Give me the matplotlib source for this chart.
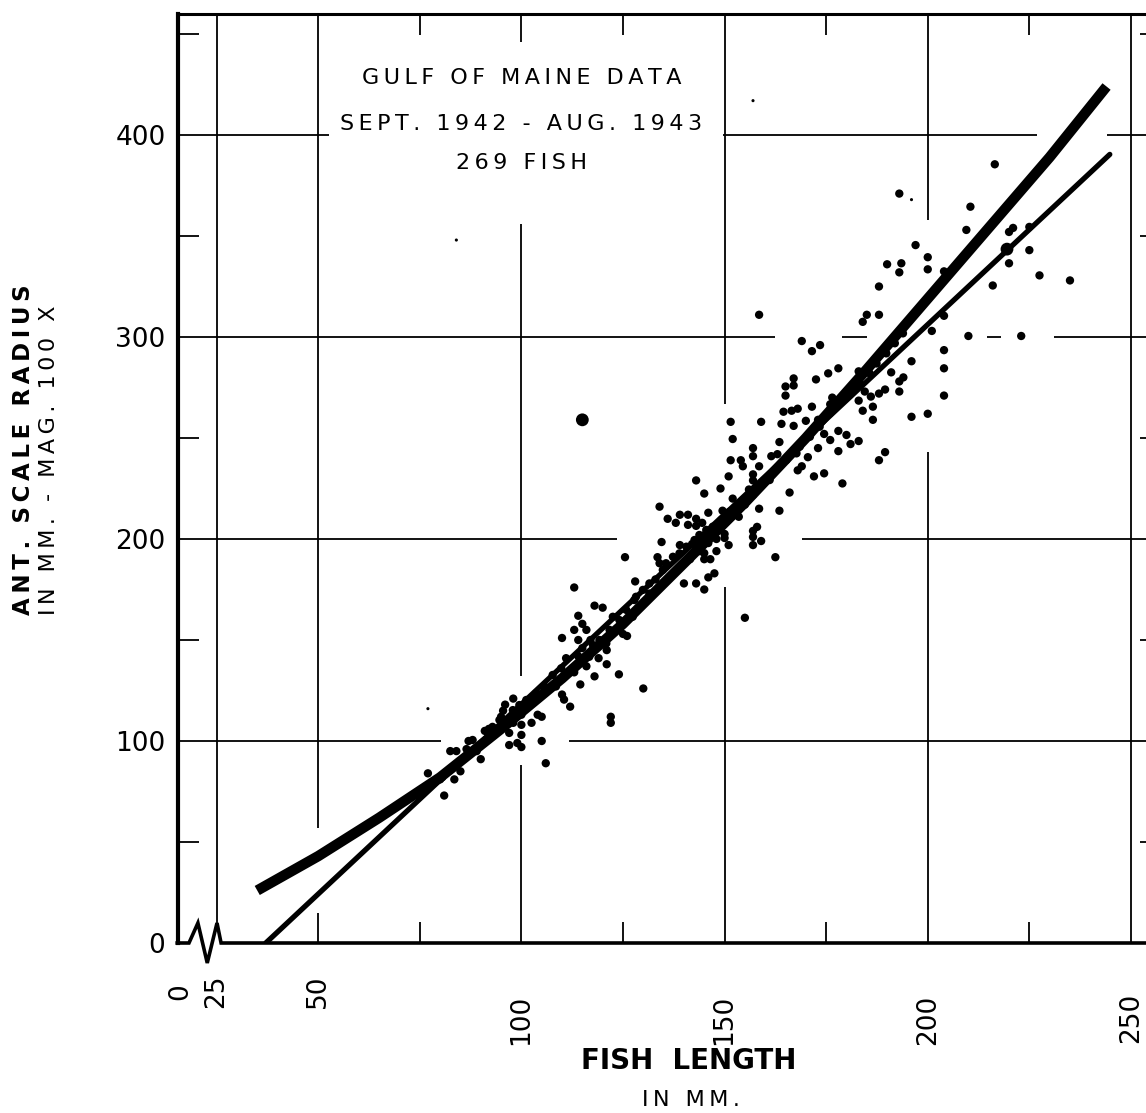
import matplotlib.pyplot as plt
from matplotlib.transforms import offset_copy

plt.rcParams['font.family'] = ['DejaVu Sans']

# ---- values ----
# fish length (mm) vs anterior scale radius (mm, mag. 100x), one dot per fish
length_mm = [
    # below 110 mm
    77, 80, 80.5, 81, 83.5, 85, 82.5, 84, 86.5, 89, 90, 87, 91, 91, 92, 95, 95.5,
    96, 98, 97, 97, 99, 100, 100, 98, 100, 100, 102.5, 104, 105, 105, 106,
    88, 92.9, 94.6, 97.9, 99.5, 101.2, 103.6, 105.7, 107.7, 109.8,
    # 108 - 132 mm
    108.5, 110, 110.5, 112, 122, 122, 130, 111, 114, 119, 116, 121, 124, 118, 113,
    114.5, 110, 114, 117, 115, 121, 113, 116, 115, 114, 118, 120, 113, 128, 125, 126,
    112.6, 116.7, 117.6, 119.2, 120.9, 121.7, 124.1, 124.1, 125.8, 127.4, 127.8,
    122.5, 128.2, 129.9, 131.5, 131.5,
    # 125 - 170 mm
    155, 133, 140, 143, 145, 146, 147.5, 125.5, 133.5, 134, 140, 141.5, 144, 145,
    145, 146.5, 148, 134.5, 139, 142, 143, 145, 146, 148, 150, 151, 150, 157, 157,
    157, 159, 162.5, 158, 153.5, 149.5, 146, 134, 136, 138, 139, 141, 143, 141, 143,
    144.5, 145, 149, 152, 155, 158.5, 163.5, 166, 156, 157, 143, 151, 157, 151.5,
    154, 154.5, 157, 158.5, 161.5, 163, 157, 152, 163.5, 151.5, 159, 164, 167,
    164.5, 166.5, 168, 165, 165, 167, 167, 168, 170.5, 169, 172, 174.5, 179, 188,
    189.5,
    134.8, 135.6, 137.3, 138.9, 140.6, 142.6, 143.8, 145.5, 147.1, 149.2, 151.2,
    152.9, 154.5, 157, 158.6, 161.1, 161.9, 165.2, 167.7, 168.5,
    # 155 - 205 mm
    197, 200, 190, 193.5, 193, 200, 204, 188, 158.5, 185, 184, 188, 204, 169, 173.5,
    171.5, 201, 178, 175.5, 183, 172.5, 204, 204, 204, 196, 191, 194, 193, 193,
    176.5, 179, 180, 183, 184.5, 186, 188, 189.5, 171.5, 186.5, 184, 186.5, 196,
    200, 170, 173, 178, 180, 178, 181, 183, 174.5, 176, 173, 176,
    171, 173.4, 175.9, 178.3, 180.8, 183.3, 185.7, 187.4, 189.8, 191.9, 193.9,
    # upper end
    216.5, 193, 210.5, 209.5, 220, 221, 225, 225, 220, 227.5, 235, 216, 210, 223,
]
radius = [
    84, 81, 82, 73, 81, 85, 95, 95, 96, 95, 91, 100, 100, 105, 106, 112, 115,
    118, 121, 104, 98, 99, 97, 103, 109, 108, 113, 109, 113, 112, 100, 89,
    100.5, 107, 110.4, 115.3, 117.8, 120.3, 123.6, 127, 132.7, 136,
    127, 123, 120.5, 117, 112, 109, 126, 141, 142, 141, 137, 138, 133, 132, 134,
    128, 151, 150, 150, 146, 145, 155, 155, 158, 162, 167, 166, 176, 179, 153, 152,
    135, 141.7, 147.5, 150, 148.3, 155, 159.9, 155, 164.9, 161.5, 169.8,
    161.5, 171.4, 174.8, 178, 173,
    161, 180, 178, 178, 175, 181, 183, 191, 191, 188, 188, 190, 194, 193,
    190, 190, 194, 198.5, 197, 197.5, 199, 201, 198, 200, 200.5, 197, 202.5, 204, 201,
    197, 199, 191, 206, 211, 214, 213, 216, 210, 208, 212, 212, 210, 207, 206.5,
    208, 222.5, 225, 220, 217, 215, 214, 223, 224.5, 229, 229, 231, 232, 239,
    239, 236, 241, 236, 241, 242, 245, 249.5, 248, 258, 258, 257, 256,
    263, 263.5, 264.5, 271, 275.5, 276, 279.5, 234, 240.5, 236, 231, 232.5, 227.5, 239,
    243,
    184.7, 188, 191.2, 192.9, 196.2, 199.5, 202, 204.5, 206.1, 209.4, 213.5,
    215.2, 217.7, 221.8, 225.9, 229.2, 232.5, 239.1, 242.4, 245.7,
    345.5, 339.5, 336, 336.5, 332, 333.5, 332.5, 325, 311, 311, 307.5, 311, 310.5, 298, 296,
    293, 303, 284.5, 282, 283, 279, 293.5, 284.5, 271, 288, 282.5, 280, 278, 273,
    270, 270.5, 273, 268.5, 273, 270.5, 272, 274, 265.5, 265.5, 263.5, 259, 260.5,
    262, 258.5, 259, 253.5, 251.5, 243.5, 247, 248.5, 252, 249, 245, 266.7,
    250.6, 255.6, 262.2, 267.2, 272.1, 277, 282, 286.9, 291.9, 296.9, 301.8,
    385.5, 371, 364.5, 353, 352, 354, 354.5, 343, 336.5, 330.5, 328, 325.5, 300.5, 300.5,
]

# two heavier blots and a few faint specks
big_len = [115, 219.5]
big_rad = [259, 343.5]
speck_len = [77, 84, 157, 196]
speck_rad = [116, 348, 417, 368]

# heavy curved regression and light straight line
curve_len = [35, 50, 65, 80, 95, 110, 125, 140, 155, 170, 185, 200, 215, 230, 244]
curve_rad = [26, 43, 62, 82, 106, 131, 158, 188, 218, 250, 284, 319, 354, 389, 424]
line_len = [37.1, 244.8]
line_rad = [0, 390.4]

x_ticks = [16, 25, 50, 100, 150, 200, 250]
x_labels = ['0', '25', '50', '100', '150', '200', '250']
x_label_drop = [40, 32, 32, 52, 52, 52, 50]   # lettering sits unevenly (px)
y_ticks = [0, 100, 200, 300, 400]
x_minor = [75, 125, 175, 225]
y_minor = [50, 150, 250, 350, 450]

X_LEFT, X_RIGHT = 15.5, 257.4

# hand-drawn grid: lines are broken around lettering and data
v_grid = {
    25: [(10, 460)],
    50: [(0, 15), (57, 460)],
    100: [(0, 88), (132, 356), (446, 460)],
    150: [(0, 176), (267, 460)],
    200: [(0, 243), (358, 460)],
    250: [(0, 460)],
}
h_grid = {
    100: [(X_LEFT, 80.3), (111.8, X_RIGHT)],
    200: [(X_LEFT, 123.6), (169, X_RIGHT)],
    300: [(X_LEFT, 162.5), (179, 185), (214.5, 218), (231, X_RIGHT)],
    400: [(X_LEFT, 52.7), (149.5, 226.8), (244, X_RIGHT)],
}

# broken x axis near the origin
break_x = [15.3, 18.2, 20.4, 22.7, 25.1, 26.1, X_RIGHT]
break_y = [0, 0, 9.9, -9.9, 9.9, 0, 0]


def spaced(text, gap='\u2009'):
    # wide hand lettering: open the letters up with thin spaces
    return gap.join(text)


fig = plt.figure(figsize=(11.46, 11.13), dpi=100)
ax = fig.add_axes([178 / 1146, 170 / 1113, 983 / 1146, 929.2 / 1113])
ax.set_xlim(X_LEFT, X_RIGHT)
ax.set_ylim(0, 460)

for x, segs in v_grid.items():
    for y0, y1 in segs:
        ax.plot([x, x], [y0, y1], color='black', lw=1.3, solid_capstyle='butt')
for y, segs in h_grid.items():
    for x0, x1 in segs:
        ax.plot([x0, x1], [y, y], color='black', lw=1.3, solid_capstyle='butt')

ax.plot(break_x, break_y, color='black', lw=2.6, clip_on=False,
        solid_joinstyle='miter')

ax.plot(line_len, line_rad, color='black', lw=3.8, solid_capstyle='round')
ax.plot(curve_len, curve_rad, color='black', lw=7.5, solid_capstyle='butt')

ax.scatter(length_mm, radius, s=36, color='black', edgecolors='none')
ax.scatter(big_len, big_rad, s=85, color='black', edgecolors='none')
ax.scatter(speck_len, speck_rad, s=5, color='black', edgecolors='none')

ax.text(100, 428, spaced('GULF OF MAINE DATA'), ha='center', va='center', fontsize=16)
ax.text(100, 405.5, spaced('SEPT. 1942 - AUG. 1943'), ha='center', va='center',
        fontsize=16)
ax.text(100, 386, spaced('269 FISH'), ha='center', va='center', fontsize=16)

for side in ['bottom', 'right']:
    ax.spines[side].set_visible(False)
ax.spines['left'].set_linewidth(3)
ax.spines['top'].set_linewidth(2.2)

ax.set_xticks(x_ticks)
ax.set_xticklabels([])
ax.set_yticks(y_ticks)
ax.set_xticks(x_minor, minor=True)
ax.set_yticks(y_minor, minor=True)
ax.tick_params(axis='x', which='major', length=0)
ax.tick_params(axis='y', which='major', length=0, pad=9, labelsize=19)
ax.tick_params(which='minor', direction='in', length=15, width=1.3,
               top=True, bottom=True, left=True, right=True)

for x, lab, drop in zip(x_ticks, x_labels, x_label_drop):
    trans = offset_copy(ax.get_xaxis_transform(), fig=fig, y=-drop, units='dots')
    ax.text(x, 0, lab, transform=trans, rotation=90, ha='center', va='top',
            fontsize=19, clip_on=False)

fig.text(24 / 1146, 1 - 450 / 1113, spaced('ANT. SCALE RADIUS'), rotation=90,
         ha='center', va='center', fontsize=16.5, fontweight='bold')
fig.text(49 / 1146, 1 - 460 / 1113, spaced('IN MM. - MAG. 100 X'), rotation=90,
         ha='center', va='center', fontsize=16)
fig.text(689 / 1146, 1 - 1061 / 1113, 'FISH  LENGTH', ha='center', va='center',
         fontsize=20, fontweight='bold')
fig.text(691 / 1146, 1 - 1100 / 1113, spaced('IN MM.'), ha='center', va='center',
         fontsize=16)

fig.savefig('out.png', dpi=100)
